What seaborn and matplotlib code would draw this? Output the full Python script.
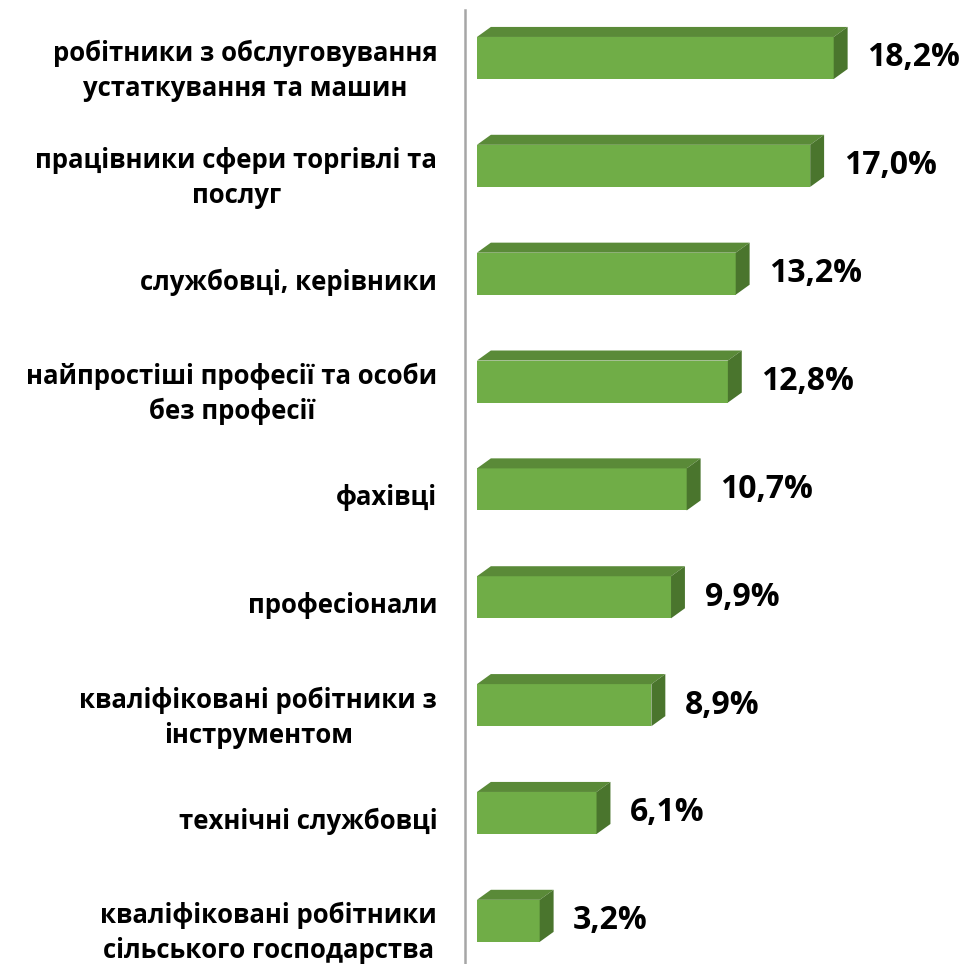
import matplotlib
matplotlib.use('Agg')
import matplotlib.pyplot as plt
import matplotlib.transforms as mtransforms
from matplotlib.patches import Polygon
import pandas as pd
import seaborn as sns

categories = [
    'робітники з обслуговування\nустаткування та машин',
    'працівники сфери торгівлі та\nпослуг',
    'службовці, керівники',
    'найпростіші професії та особи\nбез професії',
    'фахівці',
    'професіонали',
    'кваліфіковані робітники з\nінструментом',
    'технічні службовці',
    'кваліфіковані робітники\nсільського господарства',
]
values = [18.2, 17.0, 13.2, 12.8, 10.7, 9.9, 8.9, 6.1, 3.2]
value_labels = ['18,2%', '17,0%', '13,2%', '12,8%', '10,7%', '9,9%', '8,9%', '6,1%', '3,2%']

df = pd.DataFrame({'cat': categories, 'val': values})

sns.set_style('white')
plt.rcParams['font.family'] = ['Open Sans', 'DejaVu Sans']

fig = plt.figure(figsize=(9.67, 9.64), dpi=100)
ax = fig.add_axes([465 / 967, 0, 502 / 967, 1 - 10 / 964])

front = '#70AD47'
top_c = '#5A8A38'
side_c = '#4A752D'

sns.barplot(data=df, y='cat', x='val', orient='h', color=front, width=0.39,
            saturation=1, ax=ax, edgecolor='none')

ax.set_xlim(-0.61, 25.0)
ax.set_ylim(8.4, -0.445)

# 3D look: top and side faces
dx, dy = 0.71, 0.093
for p in ax.patches[:len(values)]:
    x0, y0 = p.get_x(), p.get_y()
    w, h = p.get_width(), p.get_height()
    x1 = x0 + w
    ytop = y0
    ybot = y0 + h
    ax.add_patch(Polygon([(x0, ytop), (x1, ytop), (x1 + dx, ytop - dy), (x0 + dx, ytop - dy)],
                         closed=True, facecolor=top_c, edgecolor='none'))
    ax.add_patch(Polygon([(x1, ytop), (x1 + dx, ytop - dy), (x1 + dx, ybot - dy), (x1, ybot)],
                         closed=True, facecolor=side_c, edgecolor='none'))

for i, (v, lab) in enumerate(zip(values, value_labels)):
    ax.text(v + dx + 1.0, i, lab, va='center', ha='left', fontsize=23,
            fontweight='bold', color='black')

ax.set_xlabel('')
ax.set_ylabel('')
ax.set_xticks([])
for s in ['top', 'right', 'bottom']:
    ax.spines[s].set_visible(False)
ax.spines['left'].set_color('#A6A6A6')
ax.spines['left'].set_linewidth(1.8)
ax.tick_params(axis='y', length=0, pad=20, labelcolor='black')
shift = mtransforms.ScaledTranslation(0, -0.055, fig.dpi_scale_trans)
for t in ax.get_yticklabels():
    t.set_fontsize(18.5)
    t.set_fontweight('bold')
    t.set_color('black')
    t.set_multialignment('center')
    t.set_linespacing(1.38)
    t.set_transform(t.get_transform() + shift)

fig.savefig('out.png', dpi=100)
